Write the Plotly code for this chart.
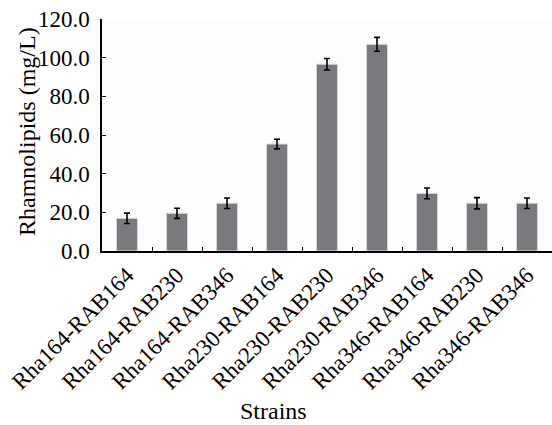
import plotly.graph_objects as go

strains = ["Rha164-RAB164", "Rha164-RAB230", "Rha164-RAB346",
           "Rha230-RAB164", "Rha230-RAB230", "Rha230-RAB346",
           "Rha346-RAB164", "Rha346-RAB230", "Rha346-RAB346"]
rhamnolipids = [16.9, 19.5, 24.7, 55.3, 96.6, 106.9, 29.8, 24.7, 24.7]
errors = [2.7, 2.6, 2.7, 2.5, 3.0, 3.6, 2.8, 2.9, 2.7]
y_ticks = [0, 20, 40, 60, 80, 100, 120]
y_tick_text = ["0.0", "20.0", "40.0", "60.0", "80.0", "100.0", "120.0"]

FONT = "Liberation Serif"

fig = go.Figure()
fig.add_trace(go.Bar(
    x=strains, y=rhamnolipids, width=0.42,
    marker=dict(color="#7b797d", line=dict(color="#d8d8d8", width=1)),
    error_y=dict(type="data", array=errors, visible=True,
                 color="black", thickness=1.6, width=3),
))

fig.update_layout(
    width=552, height=425,
    margin=dict(l=102, r=0, t=19, b=174, autoexpand=False),
    paper_bgcolor="white", plot_bgcolor="#fdfdfd",
    showlegend=False,
    font=dict(family=FONT, size=22, color="black"),
    xaxis=dict(
        automargin=False,
        showline=True, linecolor="black", linewidth=1.5,
        ticks="inside", ticklen=4, tickcolor="black", tickwidth=1,
        tickson="boundaries", tickangle=-45,
        tickfont=dict(family=FONT, size=23),
        showgrid=False, zeroline=False,
    ),
    yaxis=dict(
        automargin=False,
        range=[0, 120], tickvals=y_ticks, ticktext=y_tick_text,
        showline=True, linecolor="black", linewidth=1.5,
        ticks="inside", ticklen=4, tickcolor="black",
        tickfont=dict(family=FONT, size=23), ticklabelstandoff=6,
        showgrid=False, zeroline=False,
    ),
    annotations=[
        dict(text="Strains", showarrow=False, xref="paper", yref="paper",
             x=(238 - 102) / 450, y=-(411 - 251) / 232, yanchor="middle",
             font=dict(family=FONT, size=24)),
        dict(text="Rhamnolipids (mg/L)", showarrow=False, xref="paper", yref="paper",
             x=-(102 - 27) / 450, y=(251 - 132) / 232, xanchor="center", yanchor="middle",
             textangle=-90, font=dict(family=FONT, size=24)),
    ],
)
fig.write_html("out.html", post_script="document.body.style.margin='0';",
               config={"displayModeBar": False})
